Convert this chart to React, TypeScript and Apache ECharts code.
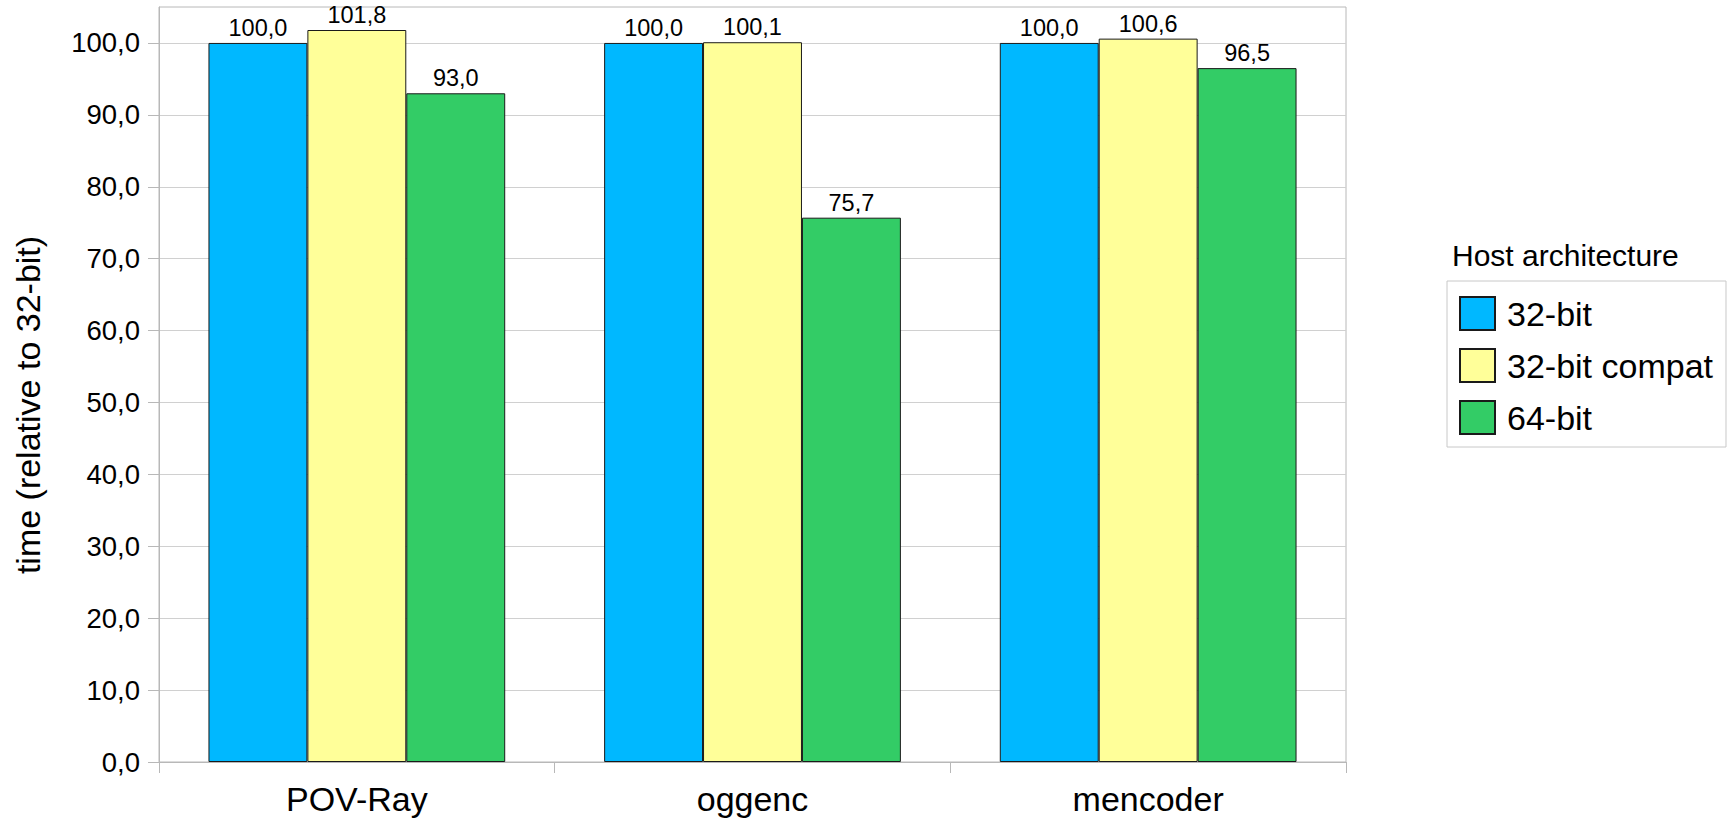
import React, { useEffect, useRef } from "react";
import * as echarts from "echarts";

// Benchmarks and the three host architectures being compared
const categories = ["POV-Ray", "oggenc", "mencoder"];
const seriesNames = ["32-bit", "32-bit compat", "64-bit"];
const values32 = [100.0, 100.0, 100.0];
const values32Compat = [101.8, 100.1, 100.6];
const values64 = [93.0, 75.7, 96.5];
const yTickValues = [0, 10, 20, 30, 40, 50, 60, 70, 80, 90, 100];
const seriesColors = ["#00b8ff", "#ffff99", "#33cc66"];

const FONT = "'Liberation Sans', Arial, sans-serif";
const fmt = (v: number) => v.toFixed(1).replace(".", ",");

export default function App() {
  const ref = useRef<HTMLDivElement>(null);

  useEffect(() => {
    if (!ref.current) return;
    const chart = echarts.init(ref.current, undefined, { renderer: "svg" });
    const data = [values32, values32Compat, values64];

    chart.setOption({
      animation: false,
      backgroundColor: "#ffffff",
      textStyle: { fontFamily: FONT },
      grid: {
        left: 159,
        top: 7,
        right: 383,
        bottom: 56,
        outerBoundsMode: "none",
        containLabel: false,
        show: true,
        borderColor: "#b8b8b8",
        borderWidth: 1,
      },
      graphic: [
        {
          type: "text",
          left: 1452,
          top: 240,
          style: {
            text: "Host architecture",
            fontSize: 30,
            fontFamily: FONT,
            fill: "#000",
          },
        },
        {
          type: "text",
          x: 28,
          y: 405,
          rotation: Math.PI / 2,
          style: {
            text: "time (relative to 32-bit)",
            fontSize: 34,
            fontFamily: FONT,
            fill: "#000",
            align: "center",
            verticalAlign: "middle",
          },
        },
      ],
      legend: {
        orient: "vertical",
        left: 1447,
        top: 281,
        itemWidth: 35,
        itemHeight: 33,
        itemGap: 17,
        padding: [15, 13, 12, 12],
        borderColor: "#c8c8c8",
        borderWidth: 1,
        icon: "rect",
        data: seriesNames,
        textStyle: {
          fontSize: 34,
          fontFamily: FONT,
          color: "#000",
          padding: [0, 0, 0, 7],
        },
      },
      xAxis: {
        type: "category",
        data: categories,
        boundaryGap: true,
        axisLine: { lineStyle: { color: "#b8b8b8", width: 1 } },
        axisTick: {
          show: true,
          length: 11,
          alignWithLabel: false,
          lineStyle: { color: "#b8b8b8" },
        },
        axisLabel: {
          fontSize: 34,
          fontFamily: FONT,
          color: "#000",
          margin: 20,
        },
        splitLine: { show: false },
      },
      yAxis: {
        type: "value",
        min: 0,
        max: 105,
        interval: 10,
        axisLine: { show: true, lineStyle: { color: "#b8b8b8", width: 1 } },
        axisTick: {
          show: true,
          length: 11,
          customValues: yTickValues,
          lineStyle: { color: "#b8b8b8" },
        },
        axisLabel: {
          fontSize: 27.5,
          fontFamily: FONT,
          color: "#000",
          margin: 19,
          customValues: yTickValues,
          formatter: (v: number) => fmt(v),
        },
        splitLine: { show: true, lineStyle: { color: "#d0d0d0", width: 1 } },
      },
      series: seriesNames.map((name, i) => ({
        name,
        type: "bar",
        data: data[i],
        barGap: "0%",
        barCategoryGap: "25%",
        itemStyle: {
          color: seriesColors[i],
          borderColor: "#1a1a1a",
          borderWidth: 1,
        },
        label: {
          show: true,
          position: "top",
          distance: 3,
          fontSize: 23.5,
          fontFamily: FONT,
          color: "#000",
          formatter: (p: any) => fmt(p.value),
        },
      })),
    });

    return () => chart.dispose();
  }, []);

  return (
    <div
      ref={ref}
      style={{ position: "fixed", left: 0, top: 0, width: 1729, height: 818 }}
    />
  );
}
